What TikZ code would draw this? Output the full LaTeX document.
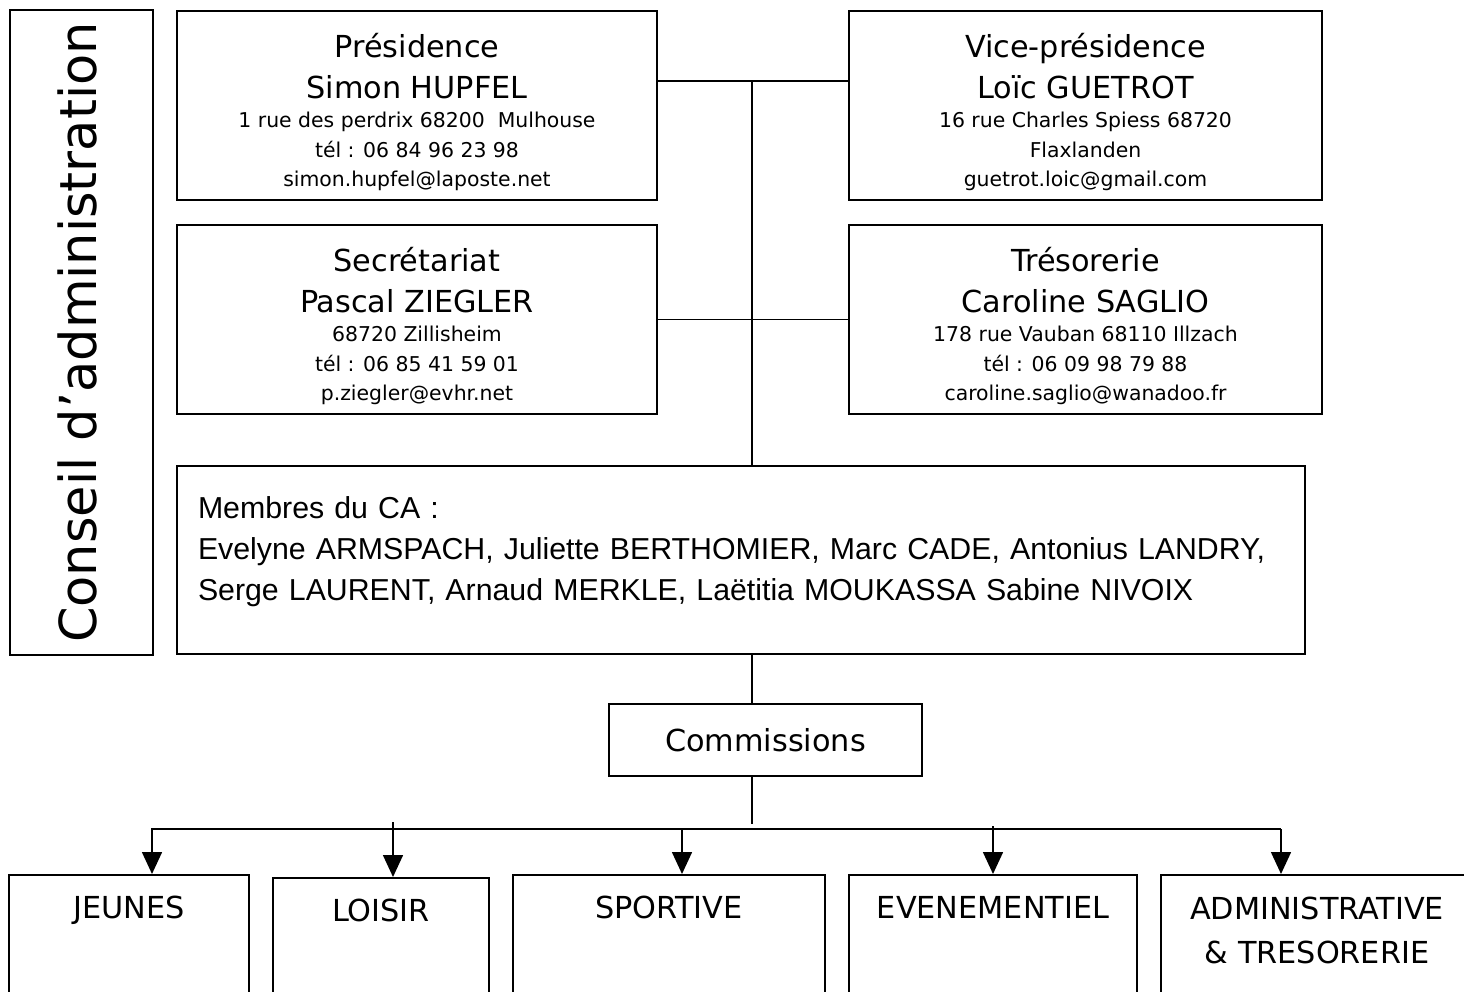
\documentclass[tikz,border=0pt]{standalone}
\usepackage{fontspec}
\setmainfont{DejaVu Sans}
\newfontfamily\namesfont{Liberation Sans}
\usetikzlibrary{arrows.meta, positioning}

\newcommand{\titlesize}{\fontsize{30.3}{42}\selectfont}
\newcommand{\infosize}{\fontsize{20.4}{29.5}\selectfont}

\tikzset{
  frame/.style={draw, rectangle, line width=1.8pt, inner sep=0pt, align=center},
  officenode/.style={frame, anchor=north, minimum width=480pt, minimum height=189pt, font=\infosize, text height=176pt, text depth=13pt},
  branchnode/.style={frame, anchor=north, minimum height=150pt, font=\titlesize, text height=44pt, text depth=106pt},
  link/.style={line width=1.6pt},
  arrow/.style={-{Triangle[length=22pt, width=20pt]}, line width=1.6pt}
}

\begin{document}
\begin{tikzpicture}[x=1pt, y=-1pt]
\useasboundingbox (0,0) rectangle (1464,992);
\clip (0,0) rectangle (1464,992);

% Nodes
\node[frame, rotate=90, minimum width=645pt, minimum height=143pt, text depth=8pt, font=\fontsize{51}{60}\selectfont] (conseil) at (81.5,332.5) {Conseil d’administration};

\node[officenode] (pres) at (417,10) {{\titlesize Présidence}\\[11pt]{\titlesize Simon HUPFEL}\\1 rue des perdrix 68200~~Mulhouse\\tél : 06 84 96 23 98\\simon.hupfel@laposte.net};
\node[officenode, minimum width=473pt] (vice) at (1085.5,10) {{\titlesize Vice-présidence}\\[11pt]{\titlesize Loïc GUETROT}\\16 rue Charles Spiess 68720\\Flaxlanden\\guetrot.loic@gmail.com};
\node[officenode] (secr) at (417,224) {{\titlesize Secrétariat}\\[11pt]{\titlesize Pascal ZIEGLER}\\68720 Zillisheim\\tél : 06 85 41 59 01\\p.ziegler@evhr.net};
\node[officenode, minimum width=473pt] (treso) at (1085.5,224) {{\titlesize Trésorerie}\\[11pt]{\titlesize Caroline SAGLIO}\\178 rue Vauban 68110 Illzach\\tél : 06 09 98 79 88\\caroline.saglio@wanadoo.fr};

\node[frame, anchor=north, minimum width=1128pt, minimum height=188pt, text width=1086pt, align=left, text height=53pt, text depth=135pt, font=\namesfont\fontsize{30.3}{41}\selectfont] (membres) at (741,465) {{\titlesize Membres du CA :}\\\mbox{Evelyne ARMSPACH, Juliette BERTHOMIER, Marc CADE{\titlesize,} Antonius LANDRY,}\\\mbox{Serge LAURENT, Arnaud MERKLE, Laëtitia MOUKASSA Sabine NIVOIX}};

\node[frame, minimum width=313pt, minimum height=72pt, font=\titlesize] (comm) at (765.5,740) {Commissions};

\node[branchnode, minimum width=240pt] (jeunes) at (129,874) {JEUNES};
\node[branchnode, minimum width=216pt] (loisir) at (381,877) {LOISIR};
\node[branchnode, minimum width=312pt] (sport) at (669,874) {SPORTIVE};
\node[branchnode, minimum width=288pt] (event) at (993,874) {EVENEMENTIEL};
\node[branchnode, minimum width=312pt, text height=89pt, text depth=61pt] (admin) at (1317,874) {ADMINISTRATIVE\\[2pt]\&~TRESORERIE};

% Connections
\coordinate (hub) at (752,81);
\draw[link] (hub -| pres.east) -- (hub -| vice.west);
\draw[link] (hub) -- (hub |- membres.north);
\draw[link] (secr.east) -- (treso.west);
\draw[link] (hub |- membres.south) -- (hub |- comm.north);
\coordinate (busend) at (752,824);
\draw[link] (hub |- comm.south) -- (busend);

\coordinate (busL) at (152,829);
\coordinate (busR) at (1281,829);
\coordinate (tLoisir) at (393,822);
\coordinate (tSport) at (682,829);
\coordinate (tEvent) at (993,826);
\draw[arrow] (busR) -- (busL) -- (busL |- jeunes.north);
\draw[arrow] (tLoisir) -- (tLoisir |- loisir.north);
\draw[arrow] (tSport) -- (tSport |- sport.north);
\draw[arrow] (tEvent) -- (tEvent |- event.north);
\draw[arrow] (busR) -- (busR |- admin.north);

\end{tikzpicture}
\end{document}
